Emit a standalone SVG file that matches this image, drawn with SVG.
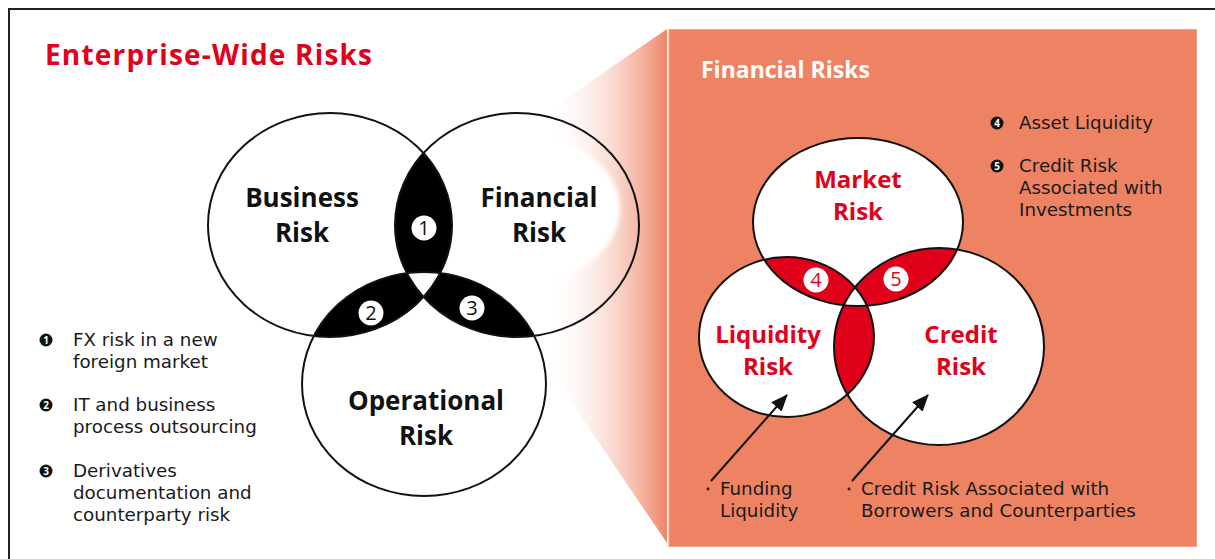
<svg xmlns="http://www.w3.org/2000/svg" width="1215" height="559" viewBox="0 0 1215 559">
<defs>
<style>
.sans{font-family:"Open Sans","Noto Sans","Liberation Sans",sans-serif}
.hd{font-family:"Open Sans","Noto Sans","Liberation Sans",sans-serif;font-weight:bold}
.blk{font-size:26px;fill:#111;text-anchor:middle}
.red{font-size:24px;fill:#E1001A;text-anchor:middle}
.body{font-family:"DejaVu Sans","Liberation Sans",sans-serif;font-size:18.3px;fill:#1a1a1a}
.ring{fill:none;stroke:#111;stroke-width:2}
.num{font-size:20px;text-anchor:middle}
.bul{font-size:10px;font-weight:bold;fill:#fff;text-anchor:middle}
</style>
<linearGradient id="fade" gradientUnits="userSpaceOnUse" x1="545" y1="0" x2="667" y2="0">
<stop offset="0" stop-color="#FFFFFF" stop-opacity="0"/>
<stop offset="1" stop-color="#EE8565"/>
</linearGradient>
<filter id="soft" x="-20%" y="-20%" width="140%" height="140%"><feGaussianBlur stdDeviation="2.5"/></filter>
<clipPath id="cB"><ellipse cx="330" cy="225" rx="122" ry="112"/></clipPath>
<clipPath id="cF"><ellipse cx="517" cy="225" rx="122" ry="112"/></clipPath>
<clipPath id="cM"><ellipse cx="858" cy="222" rx="105" ry="84"/></clipPath>
<clipPath id="cL"><ellipse cx="786.5" cy="337" rx="87.5" ry="80"/></clipPath>
<marker id="ah" markerUnits="userSpaceOnUse" markerWidth="18" markerHeight="14" refX="16" refY="7" orient="auto"><path d="M0,0 L17,7 L0,14 Z" fill="#111"/></marker>
</defs>
<rect width="1215" height="559" fill="#fff"/>
<rect x="9" y="9" width="1230" height="580" fill="none" stroke="#222" stroke-width="2"/>
<text class="hd" x="45" y="65" font-size="28" fill="#E1001A" textLength="327">Enterprise-Wide Risks</text>

<g id="zoom-fan">
<ellipse cx="517" cy="225" rx="122" ry="112" fill="#fff"/>
<polygon points="667,29 540,116 540,356 667,543" fill="url(#fade)"/>
<ellipse cx="522" cy="209" rx="98" ry="74" fill="#fff" filter="url(#soft)"/>
</g>

<g id="panel">
<rect x="669" y="29.5" width="527.5" height="517" fill="#EE8363" stroke="#F3A084" stroke-width="1"/>
<text class="hd" x="701" y="78" font-size="23" fill="#fff">Financial Risks</text>
</g>

<g id="left-venn">
<ellipse cx="330" cy="225" rx="122" ry="112" fill="#fff"/>
<ellipse cx="424" cy="384" rx="122" ry="112" fill="#fff"/>
<g clip-path="url(#cB)"><ellipse cx="517" cy="225" rx="122" ry="112" fill="#000"/><ellipse cx="424" cy="384" rx="122" ry="112" fill="#000"/></g>
<g clip-path="url(#cF)"><ellipse cx="424" cy="384" rx="122" ry="112" fill="#000"/></g>
<g clip-path="url(#cB)"><g clip-path="url(#cF)"><ellipse cx="424" cy="384" rx="122" ry="112" fill="#fff"/></g></g>
<ellipse class="ring" cx="330" cy="225" rx="122" ry="112"/>
<ellipse class="ring" cx="517" cy="225" rx="122" ry="112"/>
<ellipse class="ring" cx="424" cy="384" rx="122" ry="112"/>
</g>
<g id="business-risk"><text class="hd blk" x="302" y="207">Business<tspan x="302" dy="35">Risk</tspan></text></g>
<g id="financial-risk"><text class="hd blk" x="539" y="207">Financial<tspan x="539" dy="35">Risk</tspan></text></g>
<g id="operational-risk"><text class="hd blk" x="426" y="410">Operational<tspan x="426" dy="35">Risk</tspan></text></g>
<g id="n1"><circle cx="424" cy="228" r="12.5" fill="#fff"/><text class="sans num" x="424" y="235" fill="#111">1</text></g>
<g id="n2"><circle cx="371" cy="313" r="12.5" fill="#fff"/><text class="sans num" x="371" y="320" fill="#111">2</text></g>
<g id="n3"><circle cx="472" cy="308" r="12.5" fill="#fff"/><text class="sans num" x="472" y="315" fill="#111">3</text></g>

<g id="legend-left">
<circle cx="46" cy="340" r="6.5" fill="#111"/><text class="sans bul" x="46" y="343.5">1</text>
<text class="body" x="73" y="346">FX risk in a new<tspan x="73" dy="22">foreign market</tspan></text>
<circle cx="46" cy="405" r="6.5" fill="#111"/><text class="sans bul" x="46" y="408.5">2</text>
<text class="body" x="73" y="411">IT and business<tspan x="73" dy="22">process outsourcing</tspan></text>
<circle cx="46" cy="471" r="6.5" fill="#111"/><text class="sans bul" x="46" y="474.5">3</text>
<text class="body" x="73" y="477">Derivatives<tspan x="73" dy="22">documentation and</tspan><tspan x="73" dy="22">counterparty risk</tspan></text>
</g>

<g id="right-venn">
<ellipse cx="858" cy="222" rx="105" ry="84" fill="#fff"/>
<ellipse cx="786.5" cy="337" rx="87.5" ry="80" fill="#fff"/>
<ellipse cx="939" cy="346.5" rx="105" ry="98.5" fill="#fff"/>
<g clip-path="url(#cM)"><ellipse cx="786.5" cy="337" rx="87.5" ry="80" fill="#E1001A"/><ellipse cx="939" cy="346.5" rx="105" ry="98.5" fill="#E1001A"/></g>
<g clip-path="url(#cL)"><ellipse cx="939" cy="346.5" rx="105" ry="98.5" fill="#E1001A"/></g>
<g clip-path="url(#cM)"><g clip-path="url(#cL)"><ellipse cx="939" cy="346.5" rx="105" ry="98.5" fill="#fff"/></g></g>
<ellipse class="ring" cx="858" cy="222" rx="105" ry="84"/>
<ellipse class="ring" cx="786.5" cy="337" rx="87.5" ry="80"/>
<ellipse class="ring" cx="939" cy="346.5" rx="105" ry="98.5"/>
</g>
<g id="market-risk"><text class="hd red" x="858" y="188">Market<tspan x="858" dy="32">Risk</tspan></text></g>
<g id="liquidity-risk"><text class="hd red" x="768" y="343">Liquidity<tspan x="768" dy="32">Risk</tspan></text></g>
<g id="credit-risk"><text class="hd red" x="961" y="343">Credit<tspan x="961" dy="32">Risk</tspan></text></g>
<g id="n4"><circle cx="816" cy="280" r="12.5" fill="#fff"/><text class="sans num" x="816" y="287" fill="#E1001A">4</text></g>
<g id="n5"><circle cx="896" cy="279" r="12.5" fill="#fff"/><text class="sans num" x="896" y="286" fill="#E1001A">5</text></g>

<g id="legend-right">
<circle cx="997" cy="123" r="6.5" fill="#111"/><text class="sans bul" x="997" y="126.5">4</text>
<text class="body" x="1019" y="129">Asset Liquidity</text>
<circle cx="997" cy="166" r="6.5" fill="#111"/><text class="sans bul" x="997" y="169.5">5</text>
<text class="body" x="1019" y="172">Credit Risk<tspan x="1019" dy="22">Associated with</tspan><tspan x="1019" dy="22">Investments</tspan></text>
</g>

<g id="connectors">
<line x1="711" y1="481" x2="787" y2="395" stroke="#111" stroke-width="2" marker-end="url(#ah)"/>
<line x1="852" y1="481" x2="928" y2="395" stroke="#111" stroke-width="2" marker-end="url(#ah)"/>
</g>
<g id="funding-liquidity">
<circle cx="708" cy="489" r="1.4" fill="#111"/>
<text class="body" x="720" y="495">Funding<tspan x="720" dy="22">Liquidity</tspan></text>
</g>
<g id="credit-borrowers">
<circle cx="849" cy="489" r="1.4" fill="#111"/>
<text class="body" x="861" y="495">Credit Risk Associated with<tspan x="861" dy="22">Borrowers and Counterparties</tspan></text>
</g>
</svg>
